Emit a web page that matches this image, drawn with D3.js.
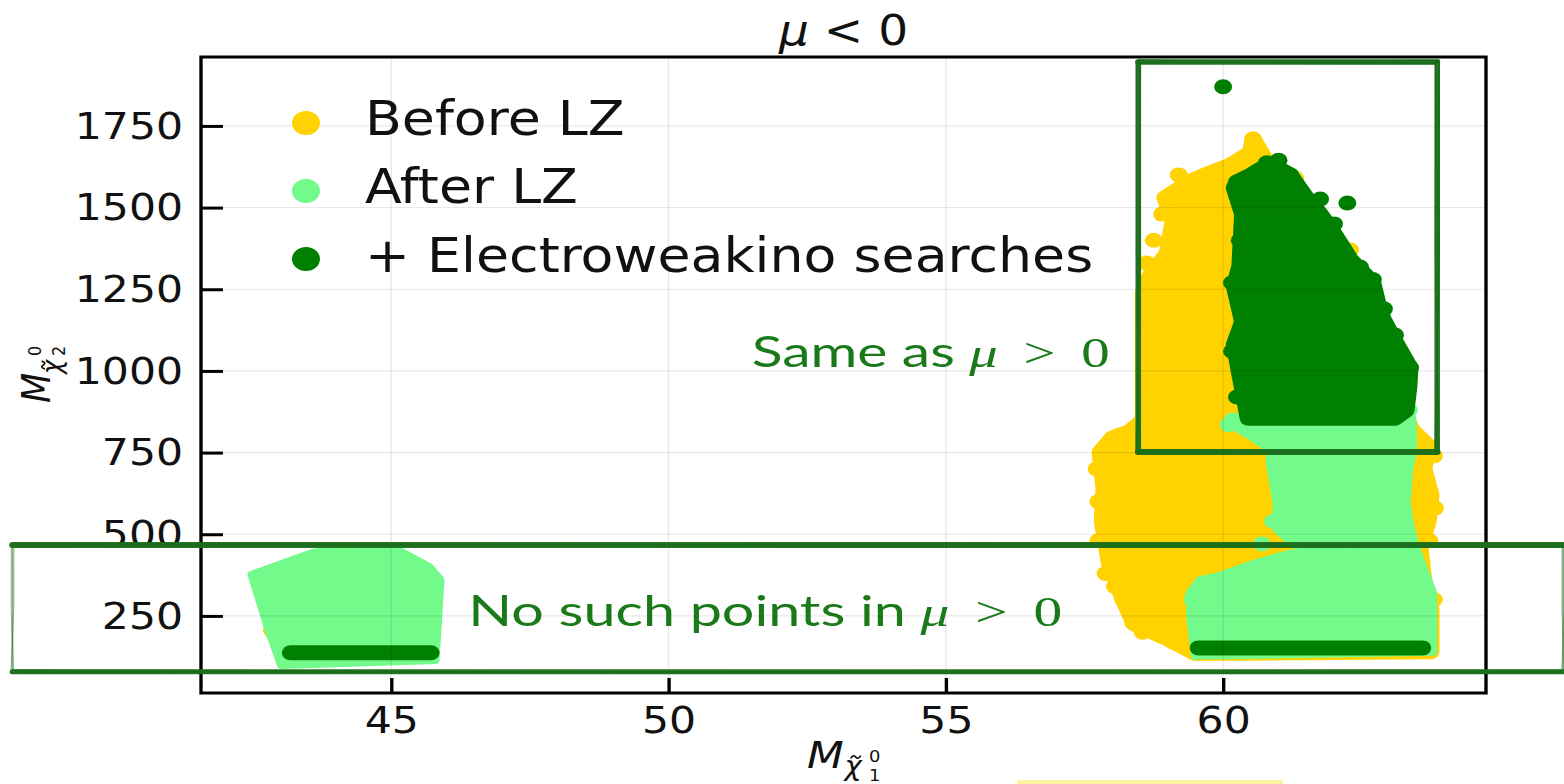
<!DOCTYPE html>
<html><head><meta charset="utf-8">
<script src="https://cdn.jsdelivr.net/npm/d3@7"></script>
<style>html,body{margin:0;padding:0;background:#fff;overflow:hidden}</style>
</head><body>
<svg id="chart" width="1564" height="784"></svg>
<script>
// ---------- data (in data units) ----------
const xTicks = [45, 50, 55, 60];
const yTicks = [250, 500, 750, 1000, 1250, 1500, 1750];
const seriesNames = ["Before LZ", "After LZ", "+ Electroweakino searches"];
const seriesColors = ["#ffd200", "#72fa8a", "#008000"];

// Before LZ : dense cloud outline + individual edge points
const beforeRegions = [[
  [60.54,1710],[60.75,1650],[60.95,1570],[61.1,1480],[61.5,1300],[62.0,1200],[62.5,1100],[63.0,1000],
  [63.2,900],[63.4,820],[63.7,770],[63.62,700],[63.75,620],[63.7,540],[63.55,460],[63.62,360],[63.75,270],
  [63.75,140],[59.5,135],[59.0,180],[58.4,225],[58.2,300],[57.95,410],[57.82,540],[57.85,640],[57.78,750],
  [58.0,795],[58.32,815],[58.56,850],[58.56,1240],[58.68,1290],[58.99,1360],[59.1,1460],[58.95,1530],
  [59.41,1580],[59.6,1595],[60.13,1630],[60.49,1668]
]];
const beforePoints = [
  [60.54,1710],[60.49,1667],[59.41,1578],[59.04,1533],[58.9,1480],[62.29,1370],[63.06,1073],[61.3,1590],
  [63.2,960],[63.7,770],[63.73,626],[63.6,351],[58.38,229],[58.2,299],[58.0,789],[42.85,205],[59.2,1600],
  [58.75,1400],[58.62,1330],[57.72,700],[57.75,600],[57.75,480],[57.88,380],[58.05,340],[58.55,200],
  [59.1,170],[63.82,580],[63.8,300],[63.72,480],[63.8,740],[60.9,1590]
];
// After LZ
const afterRegions = [
  [[42.49,376],[43.58,443],[44.22,458],[45.04,458],[45.68,400],[45.88,360],[45.79,115],[43.02,100],[42.78,216]],
  [[60.18,858],[63.4,858],[63.42,760],[63.35,700],[63.3,600],[63.35,540],[63.45,470],[63.6,400],[63.78,320],
   [63.78,140],[59.5,128],[59.42,240],[59.4,320],[59.59,360],[59.89,370],[60.6,412],[61.2,440],[61.5,445],
   [61.2,480],[60.97,515],[60.97,596],[60.85,718],[60.85,760],[60.5,800],[60.2,830]]
];
const afterPoints = [[60.18,850],[61.3,560],[60.9,540],[63.35,880],[60.7,470],[59.45,300],[60.1,835]];
// + Electroweakino searches
const ewkRegions = [[
  [60.25,1578],[60.5,1600],[60.79,1630],[61.0,1620],[61.21,1600],[61.5,1530],[61.75,1480],[62.0,1420],
  [62.3,1340],[62.47,1310],[62.7,1270],[62.8,1200],[62.88,1160],[63.1,1090],[63.37,1010],[63.35,950],
  [63.3,880],[63.1,855],[60.45,855],[60.4,900],[60.3,990],[60.2,1080],[60.35,1150],[60.2,1260],
  [60.3,1320],[60.35,1480],[60.2,1560]
]];
const ewkBands = [ [[59.55,152],[63.6,152]], [[43.18,137],[45.72,137]] ];
const ewkPoints = [
  [60.0,1870],[61.21,1600],[60.79,1637],[61.75,1526],[62.24,1514],[62.47,1318],[62.7,1280],[63.37,1010],
  [63.1,1110],[60.16,1270],[60.25,1578],[62.9,1190],[61.0,1645],[60.16,1060],[62.0,1450],[62.55,1230],
  [63.2,1050],[60.3,1400],[60.25,920]
];
// annotations (data units)
const sameBox = [58.47, 63.86, 752, 1946];
const noSuchBox = [38.17, 66.13, 79, 467];
const sameTextPos = [51.5, 1012];
const noSuchTextPos = [46.39, 219];

// ---------- drawing ----------
const S = 1.12; // horizontal stretch of the original picture
const svg = d3.select("#chart");
const g = svg.append("g").attr("transform", `scale(${S},1)`);
const x = d3.scaleLinear().domain([41.57, 64.74]).range([201 / S, 1486 / S]);
const y = d3.scaleLinear().domain([14, 1961]).range([693, 57]);
const [x0, x1] = x.range(), [y0, y1] = y.range();

const line = d3.line().x(d => x(d[0])).y(d => y(d[1]));
const poly = d3.line().x(d => x(d[0])).y(d => y(d[1])).curve(d3.curveLinearClosed);

svg.append("defs").append("clipPath").attr("id", "plotclip")
  .append("rect").attr("x", x0).attr("y", y1).attr("width", x1 - x0).attr("height", y0 - y1);
const plot = g.append("g").attr("clip-path", "url(#plotclip)");

function drawSeries(regions, points, color, sw) {
  plot.append("g").selectAll("path").data(regions).join("path")
    .attr("d", poly).attr("fill", color).attr("stroke", color)
    .attr("stroke-width", sw).attr("stroke-linejoin", "round");
  plot.append("g").selectAll("ellipse").data(points).join("ellipse")
    .attr("cx", d => x(d[0])).attr("cy", d => y(d[1])).attr("rx", 8).attr("ry", 7.5).attr("fill", color);
}
drawSeries(beforeRegions, beforePoints, seriesColors[0], 15);
drawSeries(afterRegions, afterPoints, seriesColors[1], 8);
drawSeries(ewkRegions, ewkPoints, seriesColors[2], 15);
plot.append("g").selectAll("path").data(ewkBands).join("path")
  .attr("d", line).attr("fill", "none").attr("stroke", seriesColors[2])
  .attr("stroke-width", 15).attr("stroke-linecap", "round");

// grid (drawn over the points, faint)
const grid = g.append("g").attr("stroke", "#000").attr("stroke-opacity", 0.09).attr("stroke-width", 1.2);
grid.selectAll(".vx").data(xTicks).join("line").attr("x1", d => x(d)).attr("x2", d => x(d)).attr("y1", y0).attr("y2", y1);
grid.selectAll(".hy").data(yTicks).join("line").attr("y1", d => y(d)).attr("y2", d => y(d)).attr("x1", x0).attr("x2", x1);

// axes
const font = "'DejaVu Sans', sans-serif";
const ax = g.append("g").attr("transform", `translate(0,${y0})`)
  .call(d3.axisBottom(x).tickValues(xTicks).tickFormat(d3.format("d")).tickSize(-15).tickPadding(13));
const ay = g.append("g").attr("transform", `translate(${x0},0)`)
  .call(d3.axisLeft(y).tickValues(yTicks).tickFormat(d3.format("d")).tickSize(-19.6).tickPadding(16));
[ax, ay].forEach(a => {
  a.select(".domain").remove();
  a.selectAll(".tick line").attr("stroke", "#000").attr("stroke-width", 3);
  a.selectAll(".tick text").attr("font-family", font).attr("font-size", 38).attr("fill", "#111");
});
g.append("rect").attr("x", x0).attr("y", y1).attr("width", x1 - x0).attr("height", y0 - y1)
  .attr("fill", "none").attr("stroke", "#000").attr("stroke-width", 3);

// title
const title = g.append("text").attr("x", (x0 + x1) / 2).attr("y", 45).attr("text-anchor", "middle")
  .attr("font-family", font).attr("font-size", 42).attr("fill", "#111");
title.append("tspan").attr("font-style", "italic").text("μ");
title.append("tspan").text(" < 0");

// legend
const leg = g.append("g");
seriesNames.forEach((nm, i) => {
  const cy = 123 + i * 68;
  leg.append("ellipse").attr("cx", 306 / S).attr("cy", cy).attr("rx", 12.5).attr("ry", 12).attr("fill", seriesColors[i]);
  leg.append("text").attr("x", 365 / S).attr("y", cy + 12 + (i === 2 ? 1 : 0)).attr("font-family", font)
    .attr("font-size", 48).attr("fill", "#111").text(nm);
});

// small tilde accent drawn as a path
function tilde(parent, cx, cy, w) {
  parent.append("path")
    .attr("d", `M${cx - w / 2},${cy + 1.5} C${cx - w / 4},${cy - 3} ${cx - w / 8},${cy - 1} ${cx},${cy} S${cx + w / 4},${cy + 3} ${cx + w / 2},${cy - 1.5}`)
    .attr("fill", "none").attr("stroke", "#111").attr("stroke-width", 1.6);
}

// x label  M_{chi~^0_1}
const xl = g.append("g").attr("font-family", font).attr("fill", "#111");
xl.append("text").attr("x", 720.5).attr("y", 768).attr("font-size", 38).attr("font-style", "italic").text("M");
xl.append("text").attr("x", 754).attr("y", 775).attr("font-size", 26).attr("font-style", "italic").text("χ");
tilde(xl, 764, 757, 9);
xl.append("text").attr("x", 776).attr("y", 762).attr("font-size", 16).text("0");
xl.append("text").attr("x", 776).attr("y", 781).attr("font-size", 16).text("1");

// y label (rotated)
const yl = g.append("g").attr("transform", `translate(${50 / S},403) rotate(-90)`)
  .attr("font-family", font).attr("fill", "#111");
yl.append("text").attr("x", 0).attr("y", 0).attr("font-size", 35).attr("font-style", "italic").text("M");
yl.append("text").attr("x", 29).attr("y", 10).attr("font-size", 24).attr("font-style", "italic").text("χ");
tilde(yl, 38, -6, 8);
yl.append("text").attr("x", 47).attr("y", -8).attr("font-size", 16).text("0");
yl.append("text").attr("x", 47).attr("y", 13).attr("font-size", 16).text("2");

// ---------- hand-drawn annotation boxes ----------
const ann = "#1b6e1b";
const passes = [[0, 0, 5], [1.4, -1.2, 2.2], [-1.1, 1.3, 1.6]];
function sketch(p, q, wScale, op) {
  passes.forEach(([dx, dy, w]) => {
    g.append("path").attr("d", `M${p[0] + dx},${p[1] + dy}L${(p[0] + q[0]) / 2 - dy},${(p[1] + q[1]) / 2 + dx * 0.6}L${q[0] - dx},${q[1] - dy}`)
      .attr("fill", "none").attr("stroke", ann).attr("stroke-width", w * wScale)
      .attr("stroke-opacity", op).attr("stroke-linecap", "round");
  });
}
function box(b, wTop, wBot, wSide, opSide) {
  const L = x(b[0]), R = x(b[1]), B = y(b[2]), T = y(b[3]);
  sketch([L, T], [R, T], wTop, 0.95);
  sketch([L, B], [R, B], wBot, 0.95);
  sketch([L, T], [L, B], wSide, opSide);
  sketch([R, T], [R, B], wSide, opSide);
}
box(sameBox, 1.1, 1.2, 1.0, 0.9);
box(noSuchBox, 1.2, 1.0, 0.35, 0.55);

// annotation texts
function annText(pos, words, width) {
  const t = g.append("text").attr("x", x(pos[0])).attr("y", y(pos[1])).attr("fill", "#1a7a1a")
    .attr("font-size", 42).attr("textLength", width / S).attr("lengthAdjust", "spacingAndGlyphs");
  t.append("tspan").attr("font-family", "Lato, 'Open Sans', sans-serif").text(words + " ");
  t.append("tspan").attr("font-family", "'Liberation Serif', 'DejaVu Serif', serif").attr("font-style", "italic").text("μ");
  t.append("tspan").attr("font-family", "'Liberation Serif', 'DejaVu Serif', serif").text(" \u2009>\u2009 0");
}
annText(sameTextPos, "Same as", 358);
annText(noSuchTextPos, "No such points in", 594);

// faint highlight strip at the very bottom
svg.append("rect").attr("x", 1017).attr("y", 780).attr("width", 266).attr("height", 4).attr("fill", "#fff2a0");
</script>
</body></html>
